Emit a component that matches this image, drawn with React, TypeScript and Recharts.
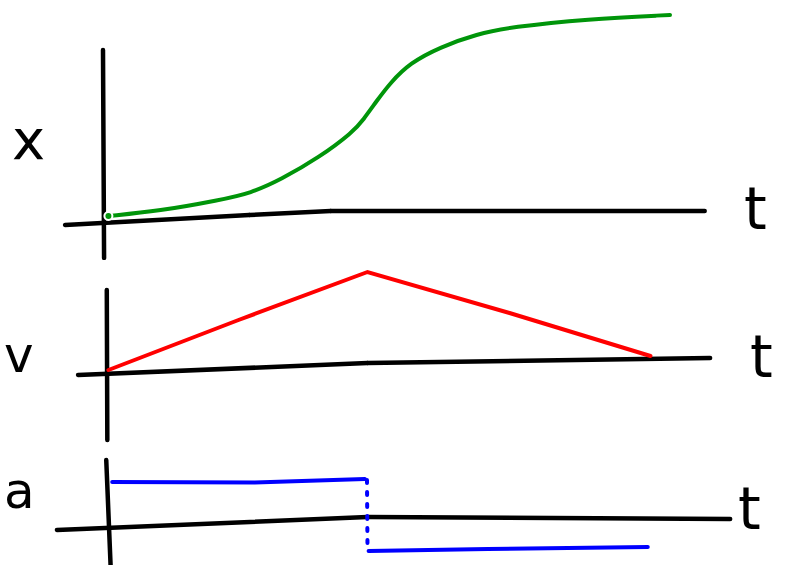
import { LineChart, Line, XAxis, YAxis, ReferenceLine } from "recharts";

// position (x) over time
const xTimes = [0, 0.93, 2.06, 2.63, 3.17, 3.9, 4.51, 4.7, 4.96, 5.2, 5.56, 6.12, 6.8, 7.43, 8.83, 10.36];
const xValues = [0.15, 0.39, 0.93, 1.27, 1.91, 3.03, 4.25, 4.84, 5.81, 6.65, 7.62, 8.4, 9.04, 9.38, 9.77, 9.97];

// velocity (v): speeds up, then slows down
const vTimes = [0, 2.4, 4.78, 7.4, 10];
const vValues = [0.2, 5.2, 10, 5.9, 1.6];

// acceleration (a): constant positive, then constant negative
const aUpTimes = [0.07, 2.7, 4.73];
const aUpValues = [3.8, 3.75, 4.1];
const aDownTimes = [4.8, 7.0, 9.95];
const aDownValues = [-3.1, -2.9, -2.7];

const axisLabels = ["x", "v", "a"];

const posData = xTimes.map((t, i) => ({ t, x: xValues[i] }));
const velData = vTimes.map((t, i) => ({ t, v: vValues[i] }));
const accUp = aUpTimes.map((t, i) => ({ t, a: aUpValues[i] }));
const accDown = aDownTimes.map((t, i) => ({ t, a: aDownValues[i] }));

const W = 786;
const tDomain: [number, number] = [-2, 12.5];
const margin = { top: 0, right: 0, left: 0, bottom: 0 };
const ink = { stroke: "#000", strokeWidth: 4.5, strokeLinecap: "round" as const, ifOverflow: "visible" as const };
const hand: React.CSSProperties = {
  position: "absolute",
  fontFamily: "'DejaVu Sans', sans-serif",
  lineHeight: 1,
  color: "#000",
};

export default function App() {
  return (
    <div style={{ position: "fixed", top: 0, left: 0, width: W, height: 565, background: "#fff", overflow: "hidden" }}>
      {/* x vs t */}
      <div style={{ position: "absolute", top: 0, left: 0 }}>
        <LineChart width={W} height={260} data={posData} margin={margin}>
          <XAxis type="number" dataKey="t" domain={tDomain} hide />
          <YAxis type="number" domain={[-2, 10.7]} hide />
          <ReferenceLine segment={[{ x: -0.8, y: -0.29 }, { x: 2.6, y: 0.2 }]} {...ink} />
          <ReferenceLine segment={[{ x: 2.6, y: 0.2 }, { x: 4.1, y: 0.39 }]} {...ink} />
          <ReferenceLine segment={[{ x: 4.1, y: 0.39 }, { x: 11.0, y: 0.39 }]} {...ink} />
          <ReferenceLine segment={[{ x: -0.1, y: 8.26 }, { x: -0.08, y: -1.9 }]} {...ink} />
          <Line type="basis" dataKey="x" stroke="#00950a" strokeWidth={4} strokeLinecap="round" dot={false} isAnimationActive={false} />
        </LineChart>
      </div>

      {/* v vs t */}
      <div style={{ position: "absolute", top: 260, left: 0 }}>
        <LineChart width={W} height={190} data={velData} margin={margin}>
          <XAxis type="number" dataKey="t" domain={tDomain} hide />
          <YAxis type="number" domain={[-7.8, 11.2]} hide />
          <ReferenceLine segment={[{ x: -0.56, y: -0.3 }, { x: 4.78, y: 0.9 }]} {...ink} />
          <ReferenceLine segment={[{ x: 4.78, y: 0.9 }, { x: 11.1, y: 1.4 }]} {...ink} />
          <ReferenceLine segment={[{ x: -0.03, y: 8.2 }, { x: -0.02, y: -6.8 }]} {...ink} />
          <Line type="linear" dataKey="v" stroke="#ff0000" strokeWidth={4} strokeLinecap="round" dot={false} isAnimationActive={false} />
        </LineChart>
      </div>

      {/* a vs t */}
      <div style={{ position: "absolute", top: 450, left: 0 }}>
        <LineChart width={W} height={115} margin={margin}>
          <XAxis type="number" dataKey="t" domain={tDomain} hide />
          <YAxis type="number" domain={[-4.5, 7]} hide />
          <ReferenceLine segment={[{ x: -0.95, y: -1.0 }, { x: 4.78, y: 0.3 }]} {...ink} />
          <ReferenceLine segment={[{ x: 4.78, y: 0.3 }, { x: 11.47, y: 0.1 }]} {...ink} />
          <ReferenceLine segment={[{ x: -0.04, y: 6.0 }, { x: 0.04, y: -4.5 }]} {...ink} />
          <ReferenceLine
            segment={[{ x: 4.77, y: 4.0 }, { x: 4.78, y: -3.1 }]}
            stroke="#0000ff"
            strokeWidth={4}
            strokeDasharray="3 9"
            strokeLinecap="round"
            ifOverflow="visible"
          />
          <Line data={accUp} type="linear" dataKey="a" stroke="#0000ff" strokeWidth={4} strokeLinecap="round" dot={false} isAnimationActive={false} />
          <Line data={accDown} type="linear" dataKey="a" stroke="#0000ff" strokeWidth={4} strokeLinecap="round" dot={false} isAnimationActive={false} />
        </LineChart>
      </div>

      <span style={{ ...hand, left: 12, top: 112, fontSize: 56 }}>{axisLabels[0]}</span>
      <span style={{ ...hand, left: 4, top: 330, fontSize: 50 }}>{axisLabels[1]}</span>
      <span style={{ ...hand, left: 4, top: 466, fontSize: 50 }}>{axisLabels[2]}</span>
      <span style={{ ...hand, left: 744, top: 180, fontSize: 58 }}>t</span>
      <span style={{ ...hand, left: 750, top: 328, fontSize: 58 }}>t</span>
      <span style={{ ...hand, left: 738, top: 480, fontSize: 58 }}>t</span>
    </div>
  );
}
